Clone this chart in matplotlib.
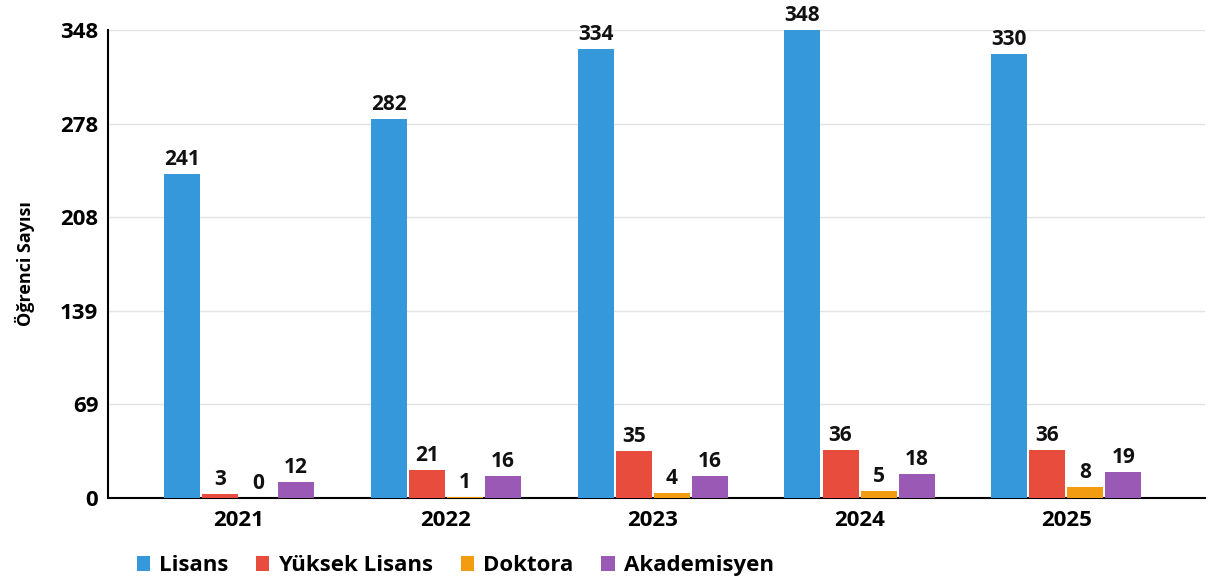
import matplotlib.pyplot as plt
import numpy as np

plt.rcParams['font.family'] = ['Open Sans', 'DejaVu Sans']
plt.rcParams['font.weight'] = 'bold'

years = ['2021', '2022', '2023', '2024', '2025']
series = ['Lisans', 'Yüksek Lisans', 'Doktora', 'Akademisyen']
lisans = [241, 282, 334, 348, 330]
yuksek_lisans = [3, 21, 35, 36, 36]
doktora = [0, 1, 4, 5, 8]
akademisyen = [12, 16, 16, 18, 19]
colors = ['#3498db', '#e74c3c', '#f39c12', '#9b59b6']

fig = plt.figure(figsize=(12.19, 5.77), dpi=100)
ax = fig.add_axes([108 / 1219, 1 - 498 / 577, 1097 / 1219, 468 / 577])

x = np.arange(len(years))
step = 0.184
width = 0.174
for i, (name, vals, c) in enumerate(zip(series, [lisans, yuksek_lisans, doktora, akademisyen], colors)):
    pos = x + (i - 1.5) * step
    ax.bar(pos, vals, width, color=c, label=name, zorder=3)
    for p, v in zip(pos, vals):
        ax.text(p, v + 3, str(v), ha='center', va='bottom', fontsize=15,
                fontweight='bold', color='#111111', zorder=4)

ax.set_xlim(-0.633, 4.67)
ax.set_ylim(0, 348)
ticks = np.linspace(0, 348, 6)
ax.set_yticks(ticks)
ax.set_yticklabels([str(int(t)) for t in ticks], fontsize=16, fontweight='bold')
ax.set_xticks(x)
ax.set_xticklabels(years, fontsize=16, fontweight='bold')
ax.tick_params(axis='x', length=0, pad=9)
ax.tick_params(axis='y', length=0, pad=7)
ax.grid(axis='y', color='#e3e3e3', linewidth=1, zorder=0)
for s in ['top', 'right']:
    ax.spines[s].set_visible(False)
ax.spines['left'].set_linewidth(1.5)
ax.spines['bottom'].set_linewidth(1.5)
ax.set_ylabel('Öğrenci Sayısı', fontsize=13, fontweight='bold', labelpad=18)

ax.legend(loc='lower left', bbox_to_anchor=(0.008, -0.21), ncol=4, frameon=False,
          fontsize=16, handlelength=0.6, handleheight=0.6, columnspacing=1.25,
          handletextpad=0.4)

fig.savefig('out.png', dpi=100)
